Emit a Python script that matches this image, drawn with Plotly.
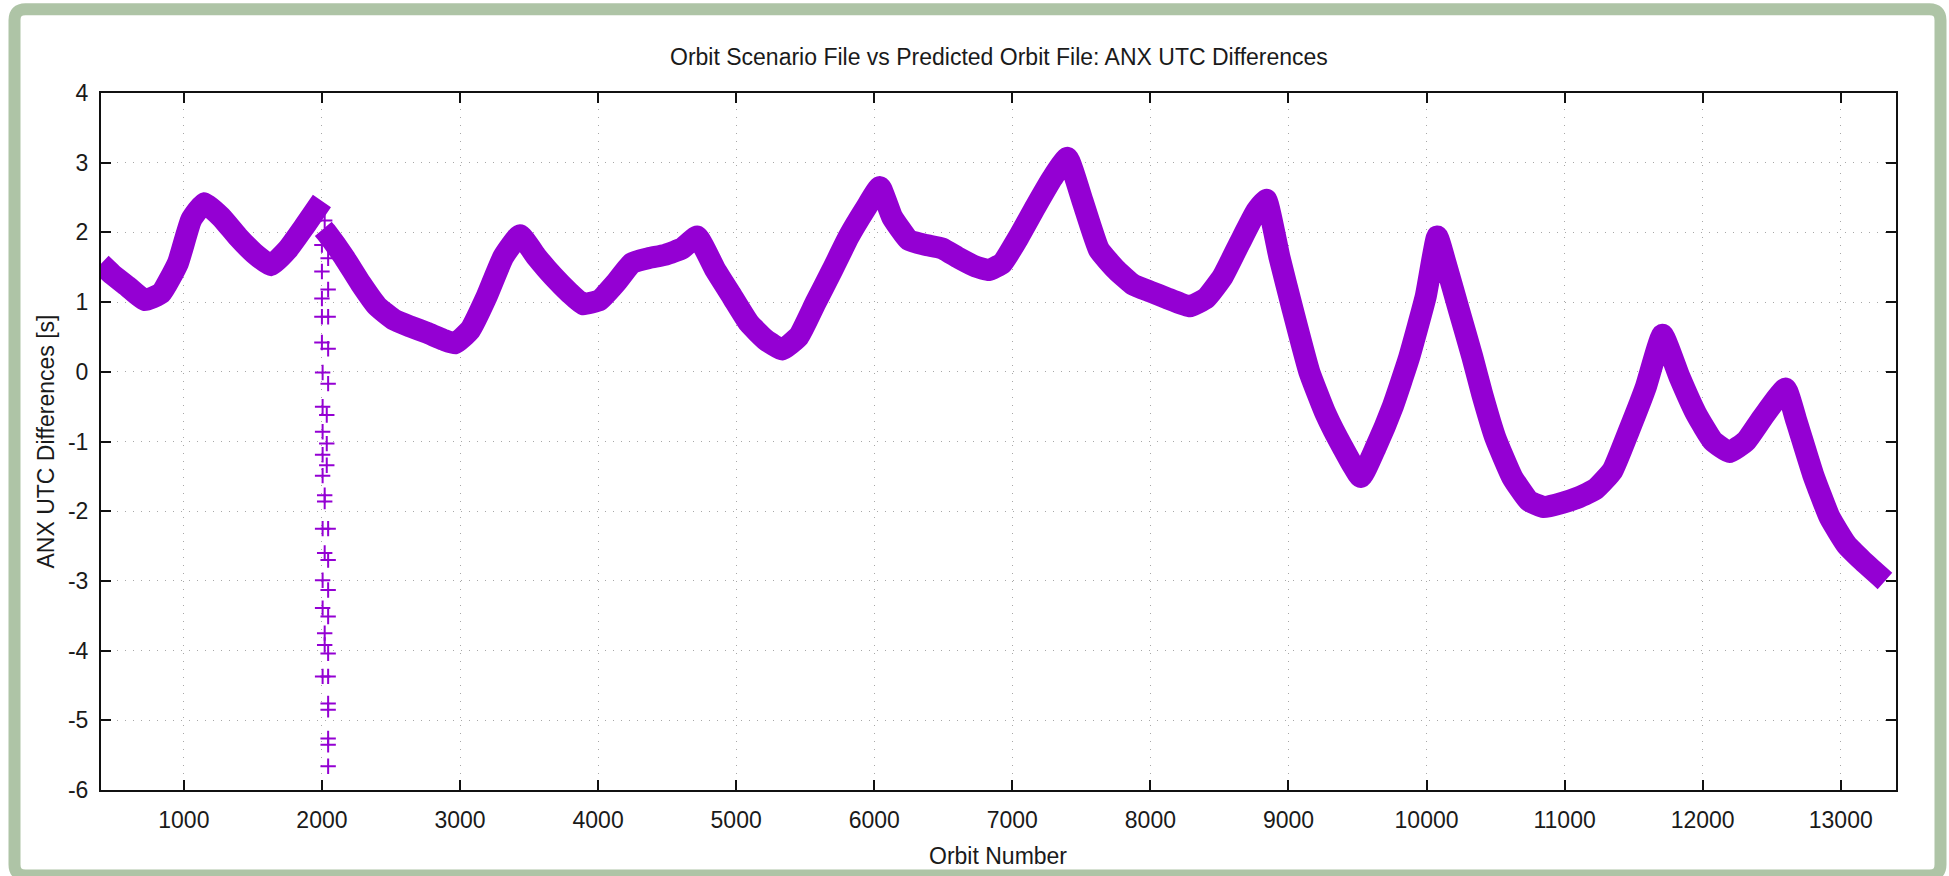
import plotly.graph_objects as go

# ---------------- data ----------------
# main band, part 1 (up to the jump at orbit ~2000)
orbit_main_a = [
    400, 480, 596, 716, 836, 957, 1053, 1149, 1270, 1390, 1510, 1630, 1750, 1871,
    2000,
]
anx_diff_main_a = [
    1.55, 1.40, 1.22, 1.03, 1.13, 1.56, 2.18, 2.42, 2.22, 1.94, 1.70, 1.53, 1.75, 2.08,
    2.45,
]
# main band, part 2 (after the jump)
orbit_main_b = [
    2010, 2039, 2159, 2280, 2400, 2520, 2640, 2761, 2881, 2965, 3073, 3193,
    3314, 3434, 3554, 3675, 3795, 3891, 4012, 4126, 4246, 4367, 4488, 4609, 4717,
    4850, 4971, 5092, 5213, 5333, 5454, 5575, 5696, 5816, 5937, 6041, 6130, 6251,
    6372, 6493, 6614, 6734, 6831, 6928, 7048, 7169, 7290, 7399, 7507, 7628, 7754,
    7875, 8000, 8116, 8284, 8405, 8525, 8645, 8766, 8838, 8934, 9031, 9151, 9271,
    9392, 9524, 9633, 9753, 9873, 9994, 10078, 10138, 10234, 10331, 10403, 10499,
    10620, 10741, 10849, 10983, 11104, 11225, 11346, 11467, 11588, 11709, 11831,
    11952, 12073, 12194, 12315, 12436, 12600, 12678, 12799, 12920, 13041, 13162,
    13320,
]
anx_diff_main_b = [
    2.05, 1.98, 1.65, 1.27, 0.94, 0.75, 0.65, 0.56, 0.46, 0.41, 0.60, 1.08,
    1.65, 1.96, 1.65, 1.37, 1.13, 0.97, 1.03, 1.27, 1.56, 1.63, 1.68, 1.77, 1.94,
    1.46, 1.08, 0.70, 0.46, 0.32, 0.51, 0.99, 1.46, 1.94, 2.34, 2.65, 2.22, 1.89,
    1.82, 1.77, 1.63, 1.51, 1.46, 1.56, 1.94, 2.37, 2.78, 3.07, 2.46, 1.75, 1.46,
    1.25, 1.15, 1.06, 0.94, 1.06, 1.37, 1.84, 2.30, 2.47, 1.65, 0.89, 0.00, -0.61,
    -1.08, -1.51, -1.08, -0.51, 0.20, 1.08, 1.94, 1.56, 0.89, 0.22, -0.32, -0.95,
    -1.51, -1.85, -1.94, -1.88, -1.80, -1.68, -1.42, -0.84, -0.22, 0.53, -0.07,
    -0.60, -0.99, -1.15, -0.99, -0.65, -0.24, -0.70, -1.47, -2.09, -2.48, -2.72,
    -3.00,
]

# scattered points around orbit 2000
orbit_outliers = [
    2020, 2000, 2045, 2000, 2045, 2000, 2000, 2045, 2000, 2045, 2005, 2045, 2005,
    2035, 2005, 2035, 2005, 2035, 2005, 2020, 2020, 2005, 2045, 2020, 2045, 2005,
    2045, 2005, 2045, 2020, 2020, 2045, 2005, 2045, 2045, 2045, 2045, 2045, 2045,
]
anx_diff_outliers = [
    2.17, 1.82, 1.63, 1.44, 1.18, 1.05, 0.79, 0.79, 0.42, 0.33, -0.01, -0.17, -0.50,
    -0.62, -0.86, -1.03, -1.19, -1.34, -1.49, -1.77, -1.86, -2.25, -2.25, -2.60, -2.70, -2.99,
    -3.13, -3.39, -3.51, -3.75, -3.92, -4.04, -4.37, -4.37, -4.76, -4.85, -5.26, -5.35, -5.66,
]

x_tick_vals = [1000, 2000, 3000, 4000, 5000, 6000, 7000, 8000, 9000, 10000, 11000, 12000, 13000]
x_tick_text = ["1000", "2000", "3000", "4000", "5000", "6000", "7000", "8000", "9000",
               "10000", "11000", "12000", "13000"]
y_tick_vals = [-6, -5, -4, -3, -2, -1, 0, 1, 2, 3, 4]
y_tick_text = ["-6", "-5", "-4", "-3", "-2", "-1", "0", "1", "2", "3", "4"]

title_text = "Orbit Scenario File vs Predicted Orbit File: ANX UTC Differences"
x_title = "Orbit Number"
y_title = "ANX UTC Differences [s]"

# ---------------- style ----------------
W, H = 1949, 876
L, R, T, B = 101, 1896, 93, 790  # plot area in pixels
PURPLE = "#9400d3"
FRAME = "#aec4a6"
FONT = "Liberation Sans, Arial, sans-serif"
TXT = "#1a1a1a"


def px(xp):
    return (xp - L) / (R - L)


def py(yp):
    return (B - yp) / (B - T)


fig = go.Figure()

for xs, ys in ((orbit_main_a, anx_diff_main_a), (orbit_main_b, anx_diff_main_b)):
    fig.add_trace(go.Scatter(
        x=xs, y=ys, mode="lines",
        line=dict(color=PURPLE, width=22, shape="spline", smoothing=0.4),
        showlegend=False,
    ))
fig.add_trace(go.Scatter(
    x=orbit_outliers, y=anx_diff_outliers, mode="markers",
    marker=dict(symbol="cross-thin", size=11, color=PURPLE,
                line=dict(color=PURPLE, width=2)),
    showlegend=False,
))

# green rounded frame around the whole picture
fl, fr, ft, fb = 14.5, 1940.5, 9.2, 875.5
rr = 11
path = (
    f"M {px(fl + rr)},{py(ft)} L {px(fr - rr)},{py(ft)} "
    f"Q {px(fr)},{py(ft)} {px(fr)},{py(ft + rr)} "
    f"L {px(fr)},{py(fb - rr)} Q {px(fr)},{py(fb)} {px(fr - rr)},{py(fb)} "
    f"L {px(fl + rr)},{py(fb)} Q {px(fl)},{py(fb)} {px(fl)},{py(fb - rr)} "
    f"L {px(fl)},{py(ft + rr)} Q {px(fl)},{py(ft)} {px(fl + rr)},{py(ft)} Z"
)
fig.add_shape(type="path", path=path, xref="paper", yref="paper",
              line=dict(color=FRAME, width=12), fillcolor="rgba(0,0,0,0)",
              layer="above")

axis_common = dict(
    showline=True, linecolor="#111111", linewidth=2, mirror="ticks",
    ticks="inside", ticklen=10, tickwidth=1.6, tickcolor="#111111",
    showgrid=True, gridcolor="#a8a8a8", gridwidth=1, griddash="1px,7px",
    zeroline=False,
    tickfont=dict(family=FONT, size=23, color=TXT),
)

fig.update_xaxes(range=[400, 13400], tickvals=x_tick_vals, ticktext=x_tick_text,
                 ticklabelstandoff=8, **axis_common)
fig.update_yaxes(range=[-6, 4], tickvals=y_tick_vals, ticktext=y_tick_text,
                 ticklabelstandoff=6, **axis_common)

fig.add_annotation(text=title_text, xref="paper", yref="paper", x=0.5, y=py(57),
                   showarrow=False, xanchor="center", yanchor="middle",
                   font=dict(family=FONT, size=23, color=TXT))
fig.add_annotation(text=x_title, xref="paper", yref="paper", x=px(998), y=py(856),
                   showarrow=False, xanchor="center", yanchor="middle",
                   font=dict(family=FONT, size=23, color=TXT))
fig.add_annotation(text=y_title, xref="paper", yref="paper", x=px(45), y=0.5,
                   showarrow=False, xanchor="center", yanchor="middle", textangle=-90,
                   font=dict(family=FONT, size=23, color=TXT))

fig.update_layout(
    width=W, height=H, autosize=False,
    margin=dict(l=L, r=W - R, t=T, b=H - B, pad=0),
    paper_bgcolor="white", plot_bgcolor="white",
    font=dict(family=FONT),
    showlegend=False,
)

fig.write_html("out.html", config={"displayModeBar": False},
               post_script="document.body.style.margin='0';document.body.style.overflow='hidden';")
